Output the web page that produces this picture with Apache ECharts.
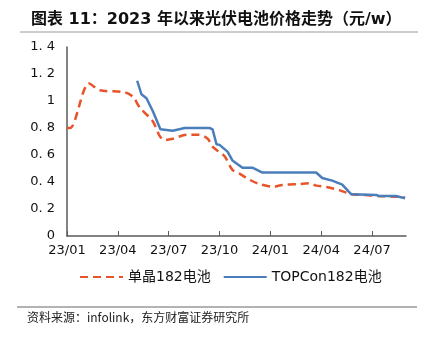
<!DOCTYPE html>
<html>
<head>
<meta charset="utf-8">
<script src="https://cdn.jsdelivr.net/npm/echarts@6/dist/echarts.min.js"></script>
<style>
  html, body { margin: 0; padding: 0; background: #fff; }
  #chart { width: 430px; height: 337px; }
</style>
</head>
<body>
<div id="chart"></div>
<script>
// x values are months elapsed since 2023-01 (0 = 23/01, 3 = 23/04, ...)
const monoMonths = [0, 0.18, 1.3, 1.94, 3.4, 3.9, 4.3, 5.06, 5.47, 5.76, 6.24, 7.06, 7.8, 8.3, 8.6, 8.9, 9.3, 9.76, 10.2, 10.8, 11.35, 12.2, 12.7, 13.7, 14.3, 14.7, 15.3, 16.06, 16.8, 17.6, 18.4, 19.6, 19.95];
const monoPrice  = [0.80, 0.80, 1.13, 1.08, 1.065, 1.03, 0.95, 0.85, 0.74, 0.71, 0.72, 0.75, 0.75, 0.72, 0.66, 0.63, 0.59, 0.49, 0.46, 0.415, 0.385, 0.365, 0.378, 0.385, 0.39, 0.373, 0.363, 0.34, 0.31, 0.304, 0.296, 0.29, 0.284];

const topconMonths = [4.14, 4.39, 4.69, 5.08, 5.51, 6.24, 6.94, 8.41, 8.59, 8.82, 9.0, 9.47, 9.76, 10.35, 10.94, 11.53, 14.7, 15.06, 15.65, 16.24, 16.76, 18.24, 18.4, 19.4, 19.94];
const topconPrice  = [1.15, 1.05, 1.02, 0.92, 0.79, 0.78, 0.80, 0.80, 0.79, 0.68, 0.675, 0.625, 0.56, 0.506, 0.506, 0.47, 0.47, 0.43, 0.41, 0.38, 0.31, 0.304, 0.296, 0.296, 0.28];

const tickMonths = [0, 3, 6, 9, 12, 15, 18];
const tickLabels = ['23/01', '23/04', '23/07', '23/10', '24/01', '24/04', '24/07'];
const seriesNames = ['单晶182电池', 'TOPCon182电池'];

const zip = (xs, ys) => xs.map((x, i) => [x, ys[i]]);

const chart = echarts.init(document.getElementById('chart'), null, { renderer: 'canvas' });
const axisGray = '#5a5a5a';
const cjk = '"Noto Sans CJK SC", sans-serif';
const num = '"DejaVu Sans", "Noto Sans CJK SC", sans-serif';

chart.setOption({
  animation: false,
  backgroundColor: '#fff',
  title: {
    text: '图表 11：2023 年以来光伏电池价格走势（元/w）',
    left: 26, top: 7,
    textStyle: { fontFamily: num, fontSize: 16, fontWeight: 'bold', color: '#111' }
  },
  graphic: [
    { type: 'line', shape: { x1: 20, y1: 32, x2: 418, y2: 32 }, style: { stroke: '#9a9a9a', lineWidth: 1 } },
    { type: 'line', shape: { x1: 17, y1: 307, x2: 417, y2: 307 }, style: { stroke: '#666', lineWidth: 1 } },
    { type: 'text', left: 27, top: 311, style: { text: '资料来源：infolink，东方财富证券研究所', font: '12px ' + cjk, fill: '#222' } }
  ],
  legend: {
    top: 265, left: 74,
    itemWidth: 43, itemHeight: 14, itemGap: 12,
    itemStyle: { opacity: 0 },
    textStyle: { fontFamily: num, fontSize: 14, color: '#111' },
    data: seriesNames
  },
  grid: { left: 67, right: 24, top: 47, bottom: 101 },
  xAxis: {
    type: 'value', min: 0, max: 20, interval: 3,
    axisLine: { lineStyle: { color: axisGray, width: 1.5 } },
    axisTick: { inside: true, length: 5, lineStyle: { color: axisGray }, customValues: tickMonths },
    axisLabel: {
      customValues: tickMonths,
      formatter: v => tickLabels[tickMonths.indexOf(v)] || '',
      fontFamily: num, fontSize: 13, color: '#111', margin: 8
    },
    splitLine: { show: false }
  },
  yAxis: {
    type: 'value', min: 0, max: 1.4, interval: 0.2,
    axisLine: { show: true, lineStyle: { color: axisGray, width: 1.5 } },
    axisTick: { show: false },
    axisLabel: {
      formatter: v => (Math.round(v * 10) / 10).toString().replace('.', '. '),
      fontFamily: num, fontSize: 13, color: '#111', margin: 12
    },
    splitLine: { show: false }
  },
  series: [
    {
      name: seriesNames[0], type: 'line', data: zip(monoMonths, monoPrice),
      symbol: 'none', smooth: 0.3,
      lineStyle: { color: '#E8542A', width: 2.5, type: [8, 5] },
      itemStyle: { color: '#E8542A' }
    },
    {
      name: seriesNames[1], type: 'line', data: zip(topconMonths, topconPrice),
      symbol: 'none', smooth: false,
      lineStyle: { color: '#4A7EBB', width: 2.5 },
      itemStyle: { color: '#4A7EBB' }
    }
  ]
});
</script>
</body>
</html>
